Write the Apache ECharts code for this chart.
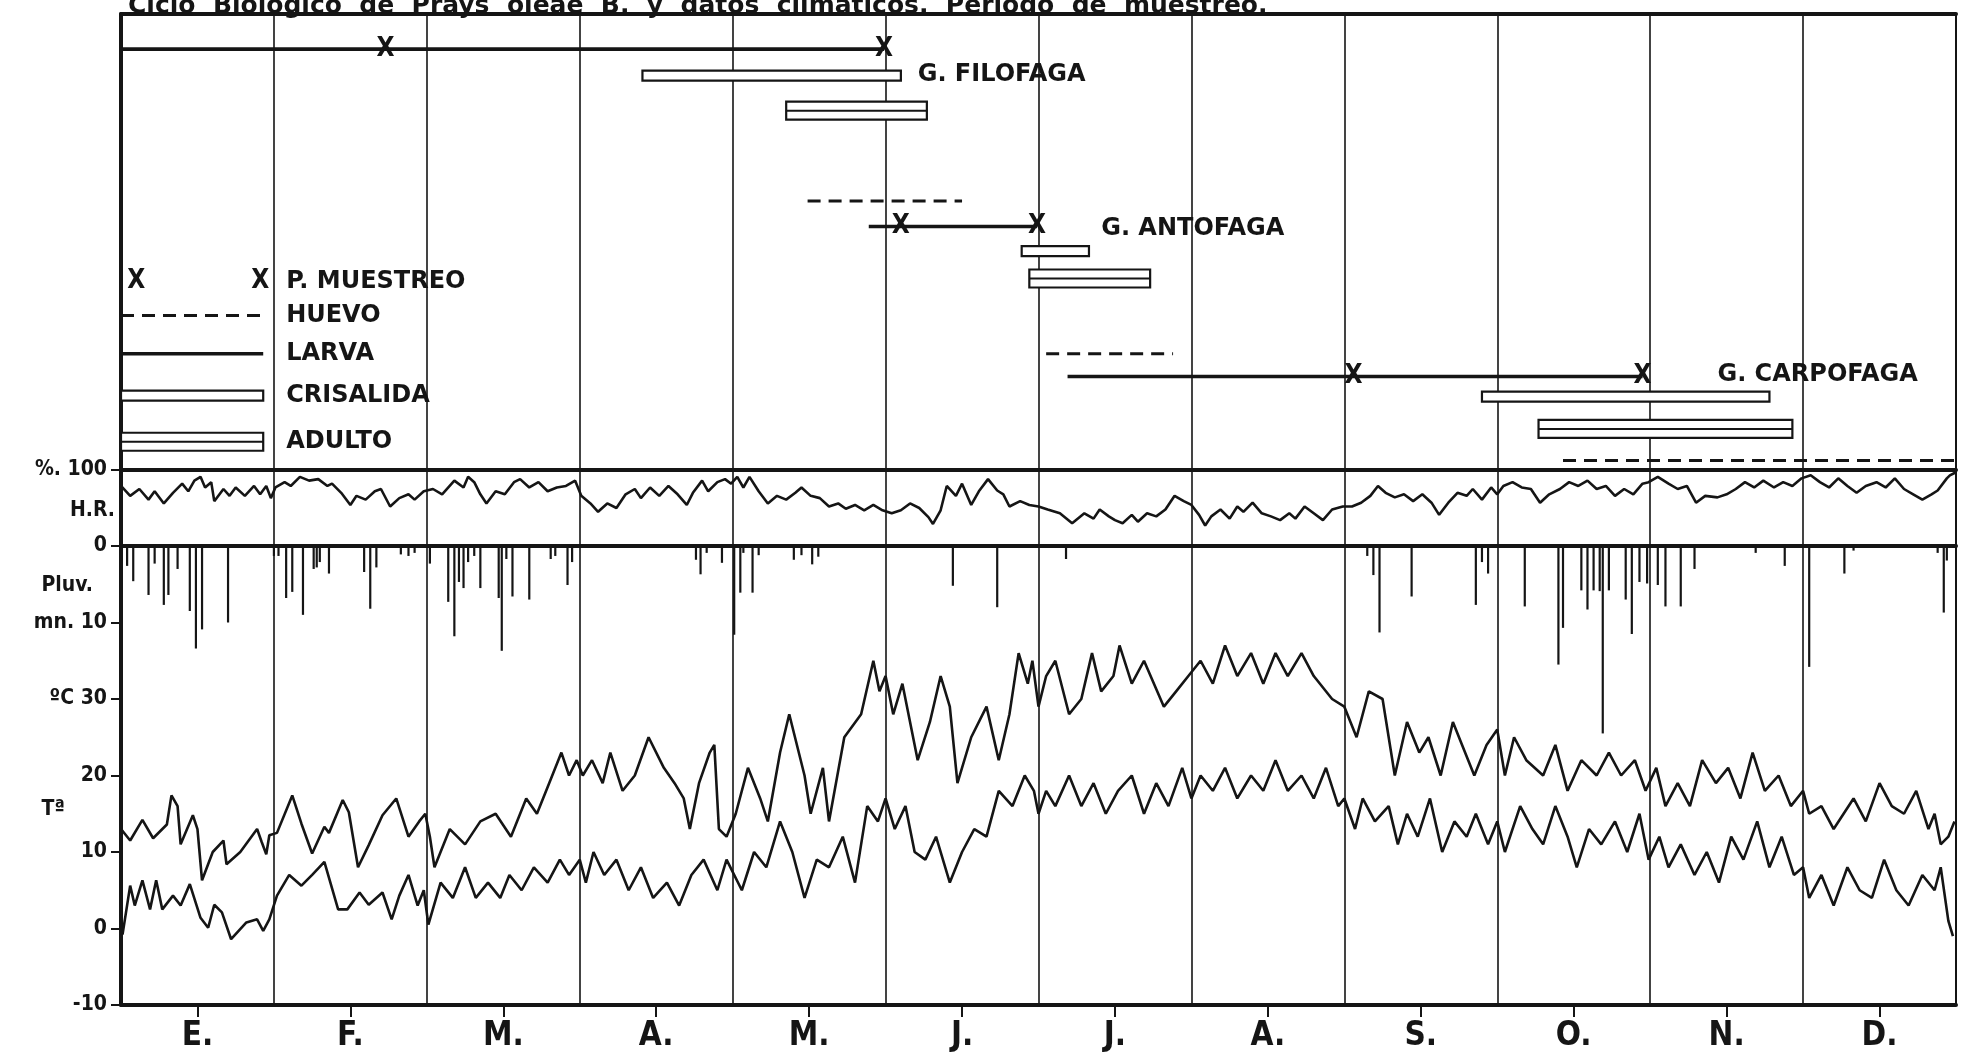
<!DOCTYPE html>
<html><head><meta charset="utf-8">
<script src="https://cdn.jsdelivr.net/npm/echarts@6/dist/echarts.min.js"></script>
<style>html,body{margin:0;padding:0;background:#fff}#c{width:1975px;height:1061px}</style>
</head><body><div id="c"></div>
<script>
// ---------------- DATA ----------------
const TITLE = 'Ciclo  Biologico  de  Prays  oleae  B.  y  datos  climaticos.  Periodo  de  muestreo.';
const months = ['E.','F.','M.','A.','M.','J.','J.','A.','S.','O.','N.','D.'];
const stages = ['HUEVO','LARVA','CRISALIDA','ADULTO'];
const groupNames = ['G. FILOFAGA','G. ANTOFAGA','G. CARPOFAGA'];

// periods in months (0 = start of January, 12 = end of December)
const filofagaPeriods = [['LARVA',0,4.99],['CRISALIDA',3.41,5.10],['ADULTO',4.35,5.27]];
const filofagaSamples = [1.73, 4.99];
const antofagaPeriods = [['HUEVO',4.49,5.50],['LARVA',4.89,5.99],['CRISALIDA',5.89,6.33],['ADULTO',5.94,6.73]];
const antofagaSamples = [5.10, 5.99];
const carpofagaPeriods = [['HUEVO',6.05,6.88],['LARVA',6.19,9.95],['CRISALIDA',8.90,10.78],['ADULTO',9.27,10.93],['HUEVO',9.43,12]];
const carpofagaSamples = [8.06, 9.95];

const legendLabels = ['P. MUESTREO','HUEVO','LARVA','CRISALIDA','ADULTO'];

// relative humidity (%)
const hr = [
[0.00,79],[0.06,66],[0.12,75],[0.18,61],[0.22,72],[0.28,56],[0.34,70],[0.40,82],[0.44,72],[0.48,86],[0.52,91],[0.55,77],[0.59,84],[0.61,59],[0.67,75],[0.71,66],[0.75,77],[0.81,66],[0.87,79],[0.91,68],[0.95,79],[0.98,63],
[1.01,77],[1.07,84],[1.11,79],[1.17,91],[1.23,86],[1.29,88],[1.35,79],[1.38,82],[1.44,70],[1.50,54],[1.54,66],[1.60,61],[1.66,72],[1.70,75],[1.76,52],[1.82,63],[1.88,68],[1.92,61],[1.98,72],
[2.04,75],[2.10,68],[2.18,86],[2.24,77],[2.27,91],[2.31,84],[2.35,68],[2.39,56],[2.45,72],[2.51,68],[2.57,84],[2.61,88],[2.67,77],[2.73,84],[2.79,72],[2.85,77],[2.91,79],[2.97,86],
[3.01,66],[3.07,56],[3.12,45],[3.18,56],[3.24,50],[3.30,68],[3.36,75],[3.40,63],[3.46,77],[3.52,66],[3.58,79],[3.64,68],[3.70,54],[3.74,70],[3.80,86],[3.84,72],[3.90,84],[3.95,88],[3.99,82],
[4.03,91],[4.07,77],[4.11,91],[4.17,72],[4.23,56],[4.29,66],[4.35,61],[4.41,70],[4.45,77],[4.51,66],[4.57,63],[4.63,52],[4.69,56],[4.74,49],[4.80,54],[4.86,47],[4.92,54],[4.98,47],
[5.04,43],[5.10,47],[5.16,56],[5.22,50],[5.28,38],[5.31,29],[5.36,47],[5.40,79],[5.46,66],[5.50,82],[5.56,54],[5.61,72],[5.67,88],
[5.73,73],[5.77,68],[5.81,52],[5.88,59],[5.94,54],[6.00,52],[6.06,48],[6.14,43],[6.22,30],[6.30,43],[6.36,36],[6.40,48],[6.46,39],[6.50,34],[6.55,30],[6.61,41],[6.65,32],[6.71,43],[6.77,39],[6.83,48],[6.89,66],[6.95,59],[7.00,54],
[7.05,41],[7.09,27],[7.13,39],[7.19,48],[7.25,36],[7.30,52],[7.34,45],[7.40,57],[7.46,43],[7.52,39],[7.58,34],[7.64,43],[7.68,36],[7.74,52],[7.80,43],[7.86,34],[7.92,48],[7.99,52],
[8.05,52],[8.11,57],[8.17,66],[8.22,79],[8.27,70],[8.33,64],[8.39,68],[8.45,59],[8.51,68],[8.57,57],[8.62,41],[8.68,57],[8.74,70],[8.80,66],[8.84,75],[8.90,61],[8.96,77],[9.00,68],
[9.04,79],[9.10,84],[9.16,77],[9.22,75],[9.28,57],[9.34,68],[9.41,75],[9.47,84],[9.53,79],[9.59,86],[9.65,75],[9.71,79],[9.77,66],[9.83,75],[9.89,68],[9.95,82],[9.99,84],
[10.05,91],[10.12,82],[10.18,75],[10.24,79],[10.30,57],[10.36,66],[10.44,64],[10.50,68],[10.56,75],[10.62,84],[10.68,77],[10.74,86],[10.81,77],[10.87,84],[10.93,79],[10.99,89],
[11.05,93],[11.11,84],[11.17,77],[11.23,89],[11.29,79],[11.35,70],[11.41,79],[11.48,84],[11.54,77],[11.60,89],[11.66,75],[11.72,68],[11.78,61],[11.84,68],[11.88,73],[11.94,89],[11.96,93],[12.0,97]
];

// rainfall (mm)
const rain = [
[0.04,2.6],[0.08,4.6],[0.18,6.4],[0.22,2.3],[0.28,7.7],[0.31,6.4],[0.37,3.0],[0.45,8.5],[0.49,13.4],[0.53,10.9],[0.70,10.0],
[1.00,1.3],[1.03,1.3],[1.08,6.8],[1.12,6.0],[1.19,9.0],[1.26,3.0],[1.28,2.8],[1.30,2.1],[1.36,3.6],[1.59,3.4],[1.63,8.2],[1.67,2.8],[1.83,1.1],[1.88,1.3],[1.92,0.9],
[2.02,2.3],[2.14,7.3],[2.18,11.8],[2.21,4.7],[2.24,5.5],[2.27,2.1],[2.31,1.3],[2.35,5.5],[2.47,6.8],[2.49,13.7],[2.52,1.7],[2.56,6.6],[2.67,7.0],[2.81,1.7],[2.84,1.3],[2.92,5.1],[2.95,2.1],
[3.76,1.8],[3.79,3.7],[3.83,0.9],[3.93,2.2],[4.01,11.6],[4.05,6.1],[4.07,0.9],[4.13,6.1],[4.17,1.2],[4.40,1.8],[4.45,1.2],[4.52,2.4],[4.56,1.4],
[5.44,5.2],[5.73,8.0],
[6.18,1.7],
[8.15,1.3],[8.19,3.8],[8.23,11.3],[8.44,6.6],[8.86,7.7],[8.90,2.1],[8.94,3.6],
[9.18,7.9],[9.40,15.5],[9.43,10.7],[9.55,5.8],[9.59,8.3],[9.63,5.8],[9.67,5.9],[9.69,24.5],[9.73,5.8],[9.84,7.0],[9.88,11.5],[9.93,4.7],[9.98,4.9],
[10.05,5.1],[10.10,7.9],[10.20,7.9],[10.29,3.0],[10.69,0.9],[10.88,2.6],
[11.04,15.8],[11.27,3.6],[11.33,0.6],[11.88,0.9],[11.92,8.7],[11.94,1.9]
];

// maximum temperature (ºC)
const tmax = [
[0,13],[0.06,11.5],[0.14,14.2],[0.21,11.8],[0.30,13.6],[0.33,17.4],[0.37,16],[0.39,11],[0.47,14.8],[0.50,13],[0.53,6.3],[0.60,10],[0.67,11.5],[0.69,8.4],[0.78,10],[0.89,13],[0.92,11.3],[0.95,9.7],[0.97,12.2],
[1.02,12.5],[1.12,17.4],[1.18,13.7],[1.25,9.8],[1.33,13.3],[1.36,12.5],[1.45,16.8],[1.49,15.2],[1.55,8],[1.62,10.9],[1.71,14.8],[1.80,17],[1.88,12],[1.95,14],[1.99,15],
[2.02,12],[2.05,8],[2.15,13],[2.25,11],[2.35,14],[2.45,15],[2.55,12],[2.65,17],[2.72,15],[2.80,19],[2.88,23],[2.93,20],[2.98,22],
[3.02,20],[3.08,22],[3.15,19],[3.20,23],[3.28,18],[3.36,20],[3.45,25],[3.55,21],[3.62,19],[3.68,17],[3.72,13],[3.78,19],[3.85,23],[3.88,24],[3.91,13],[3.96,12],
[4.02,15],[4.10,21],[4.18,17],[4.23,14],[4.31,23],[4.37,28],[4.47,20],[4.51,15],[4.59,21],[4.63,14],[4.73,25],[4.84,28],[4.92,35],[4.96,31],[5.00,33],
[5.05,28],[5.11,32],[5.21,22],[5.29,27],[5.36,33],[5.42,29],[5.47,19],[5.56,25],[5.66,29],[5.74,22],[5.81,28],[5.87,36],[5.93,32],[5.96,35],[6.00,29],
[6.05,33],[6.11,35],[6.20,28],[6.28,30],[6.35,36],[6.41,31],[6.49,33],[6.53,37],[6.61,32],[6.69,35],[6.82,29],[6.90,31],[6.98,33],
[7.06,35],[7.14,32],[7.22,37],[7.30,33],[7.39,36],[7.47,32],[7.55,36],[7.63,33],[7.72,36],[7.80,33],[7.92,30],[8.00,29],
[8.08,25],[8.16,31],[8.25,30],[8.33,20],[8.41,27],[8.49,23],[8.55,25],[8.63,20],[8.71,27],[8.77,24],[8.85,20],[8.93,24],[9.00,26],
[9.05,20],[9.11,25],[9.19,22],[9.30,20],[9.38,24],[9.46,18],[9.55,22],[9.65,20],[9.73,23],[9.81,20],[9.90,22],[9.97,18],
[10.04,21],[10.10,16],[10.18,19],[10.26,16],[10.34,22],[10.43,19],[10.51,21],[10.59,17],[10.67,23],[10.75,18],[10.84,20],[10.92,16],[11.00,18],
[11.04,15],[11.12,16],[11.20,13],[11.33,17],[11.41,14],[11.50,19],[11.58,16],[11.66,15],[11.74,18],[11.82,13],[11.86,15],[11.90,11],[11.95,12],[11.99,14]
];

// minimum temperature (ºC)
const tmin = [
[0.01,-0.8],[0.06,5.6],[0.09,3],[0.14,6.3],[0.19,2.5],[0.23,6.3],[0.27,2.5],[0.34,4.3],[0.39,3],[0.45,5.8],[0.52,1.4],[0.57,0.1],[0.61,3.1],[0.66,2.1],[0.72,-1.4],[0.82,0.8],[0.89,1.2],[0.93,-0.3],[0.97,1.2],
[1.02,4.3],[1.10,7],[1.18,5.6],[1.25,7],[1.33,8.7],[1.42,2.5],[1.48,2.5],[1.56,4.7],[1.62,3.1],[1.71,4.7],[1.77,1.2],[1.82,4.3],[1.88,7],[1.94,3],[1.98,5],
[2.01,0.5],[2.09,6],[2.17,4],[2.25,8],[2.32,4],[2.40,6],[2.48,4],[2.54,7],[2.62,5],[2.70,8],[2.79,6],[2.87,9],[2.93,7],[3.00,9],
[3.04,6],[3.09,10],[3.16,7],[3.24,9],[3.32,5],[3.40,8],[3.48,4],[3.57,6],[3.65,3],[3.73,7],[3.81,9],[3.90,5],[3.96,9],
[4.06,5],[4.14,10],[4.22,8],[4.31,14],[4.39,10],[4.47,4],[4.55,9],[4.63,8],[4.72,12],[4.80,6],[4.88,16],[4.95,14],[5.00,17],
[5.06,13],[5.13,16],[5.19,10],[5.26,9],[5.33,12],[5.42,6],[5.50,10],[5.58,13],[5.66,12],[5.74,18],[5.83,16],[5.91,20],[5.97,18],[6.00,15],
[6.05,18],[6.11,16],[6.20,20],[6.28,16],[6.36,19],[6.44,15],[6.52,18],[6.61,20],[6.69,15],[6.77,19],[6.85,16],[6.94,21],[7.00,17],
[7.06,20],[7.14,18],[7.22,21],[7.30,17],[7.39,20],[7.47,18],[7.55,22],[7.63,18],[7.72,20],[7.80,17],[7.88,21],[7.96,16],[8.00,17],
[8.07,13],[8.12,17],[8.20,14],[8.29,16],[8.35,11],[8.41,15],[8.48,12],[8.56,17],[8.64,10],[8.72,14],[8.80,12],[8.86,15],[8.94,11],[9.00,14],
[9.05,10],[9.15,16],[9.23,13],[9.30,11],[9.38,16],[9.46,12],[9.52,8],[9.60,13],[9.68,11],[9.77,14],[9.85,10],[9.93,15],[9.99,9],
[10.06,12],[10.12,8],[10.20,11],[10.29,7],[10.37,10],[10.45,6],[10.53,12],[10.61,9],[10.70,14],[10.78,8],[10.86,12],[10.94,7],[11.00,8],
[11.04,4],[11.12,7],[11.20,3],[11.29,8],[11.37,5],[11.45,4],[11.53,9],[11.61,5],[11.69,3],[11.78,7],[11.86,5],[11.90,8],[11.95,1],[11.98,-1]
];

// ---------------- LAYOUT / STYLE ----------------
const INK = '#151515';
const FONT = '"DejaVu Sans Condensed", "DejaVu Sans", sans-serif';
const FONT_W = '"DejaVu Sans", sans-serif';
const G = {left:121, right:19};
const TOPS = {a:14, b:470, c:546, bottom:1005};
// vertical levels (0 = top of upper panel, 100 = its bottom) of each drawn row
const ROWS = {
  filofaga:[7.7, 13.5, 21.2], antofaga:[41.0, 46.6, 52.0, 58.0], carpofaga:[74.5, 79.5, 83.9, 91.0, 97.9],
  labels:[13.4, 47.1, 79.2], labelX:[5.21, 6.41, 10.44],
  legend:[58.7, 66.1, 74.5, 83.7, 93.8], legendLine:[0, 0.93], legendMarks:[0.10, 0.91], legendText:1.08
};

// ---------------- BUILD ----------------
const gens = [
  {p:filofagaPeriods, s:filofagaSamples, rows:ROWS.filofaga},
  {p:antofagaPeriods, s:antofagaSamples, rows:ROWS.antofaga},
  {p:carpofagaPeriods, s:carpofagaSamples, rows:ROWS.carpofaga}
];
const stageData = [], markData = [];
gens.forEach(g => {
  g.p.forEach((p, i) => stageData.push([p[1], p[2], g.rows[i], stages.indexOf(p[0])]));
  const li = g.p.findIndex(p => p[0] === 'LARVA');
  g.s.forEach(m => markData.push([m, g.rows[li]]));
});
stages.forEach((st, i) => stageData.push([ROWS.legendLine[0], ROWS.legendLine[1], ROWS.legend[i + 1], i]));
ROWS.legendMarks.forEach(m => markData.push([m, ROWS.legend[0]]));
const textData = [];
groupNames.forEach((n, i) => textData.push({value:[ROWS.labelX[i], ROWS.labels[i]], name:n}));
legendLabels.forEach((n, i) => textData.push({value:[ROWS.legendText, ROWS.legend[i]], name:n}));

function renderStage(params, api) {
  const s = api.value(0), e = api.value(1), lvl = api.value(2), kind = api.value(3);
  const a = api.coord([s, lvl]), b = api.coord([e, lvl]);
  const x = a[0], w = b[0] - a[0], y = a[1];
  if (kind === 0) return {type:'line', shape:{x1:x, y1:y, x2:b[0], y2:y}, style:{stroke:INK, lineWidth:3, lineDash:[13, 8]}};
  if (kind === 1) return {type:'line', shape:{x1:x, y1:y, x2:b[0], y2:y}, style:{stroke:INK, lineWidth:3.6}};
  if (kind === 2) return {type:'rect', shape:{x:x, y:y - 5, width:w, height:10}, style:{fill:'#fff', stroke:INK, lineWidth:2.2}};
  return {type:'group', children:[
    {type:'rect', shape:{x:x, y:y - 9, width:w, height:18}, style:{fill:'#fff', stroke:INK, lineWidth:2.2}},
    {type:'line', shape:{x1:x, y1:y, x2:b[0], y2:y}, style:{stroke:INK, lineWidth:2}}
  ]};
}
function renderMark(params, api) {
  const p = api.coord([api.value(0), api.value(1)]);
  return {type:'text', x:p[0], y:p[1], style:{text:'X', fill:INK, font:'bold 26px ' + FONT, align:'center', verticalAlign:'middle'}};
}
function renderText(params, api) {
  const p = api.coord([api.value(0), api.value(1)]);
  return {type:'text', x:p[0], y:p[1], style:{text:textData[params.dataIndex].name, fill:INK, font:'bold 24px ' + FONT_W, align:'left', verticalAlign:'middle'}};
}
function renderRain(params, api) {
  const a = api.coord([api.value(0), 0]), b = api.coord([api.value(0), api.value(1)]);
  return {type:'line', shape:{x1:a[0], y1:a[1], x2:b[0], y2:b[1]}, style:{stroke:INK, lineWidth:2.2}};
}

const thick = {show:true, onZero:false, lineStyle:{color:INK, width:4}};
const split = {show:true, lineStyle:{color:INK, width:1.6}};
const lab = (size) => ({color:INK, fontFamily:FONT, fontWeight:'bold', fontSize:size});
function monthAxis(grid) {
  return {type:'value', gridIndex:grid, min:0, max:12, interval:1, position:'top',
    axisLine:thick, axisTick:{show:false}, axisLabel:{show:false}, splitLine:split};
}
const rich = (pad) => ({fontFamily:FONT, fontWeight:'bold', fontSize:21, color:INK, padding:[0, pad, 0, 0]});
const gridBase = {left:G.left, right:G.right, show:true, borderColor:INK, borderWidth:2, containLabel:false, outerBoundsMode:'none'};

const option = {
  backgroundColor:'#fff',
  animation:false,
  graphic:[{type:'text', left:128, top:-6, style:{text:TITLE, font:'bold 25px ' + FONT_W, fill:INK}}],
  grid:[
    Object.assign({top:TOPS.a, height:TOPS.b - TOPS.a}, gridBase),
    Object.assign({top:TOPS.b, height:TOPS.c - TOPS.b}, gridBase),
    Object.assign({top:TOPS.c, height:TOPS.bottom - TOPS.c}, gridBase)
  ],
  xAxis:[
    monthAxis(0), monthAxis(1), monthAxis(2),
    {type:'category', gridIndex:2, position:'bottom', data:months, boundaryGap:true,
      axisLine:thick, axisTick:{show:true, alignWithLabel:true, length:12, lineStyle:{color:INK, width:2}},
      axisLabel:Object.assign(lab(33), {margin:15}), splitLine:{show:false}}
  ],
  yAxis:[
    {type:'value', gridIndex:0, position:'left', min:0, max:100, inverse:true, axisLine:thick, axisTick:{show:false}, axisLabel:{show:false}, splitLine:{show:false}},
    {type:'value', gridIndex:1, position:'left', min:0, max:100, axisLine:thick, splitLine:{show:false},
      axisTick:{show:true, length:10, lineStyle:{color:INK, width:2}, customValues:[100]},
      axisLabel:Object.assign(lab(22), {margin:6, customValues:[46, 100],
        formatter:v => v === 100 ? '{a|%. 100}' : '{h|H.R.}', rich:{a:rich(8), h:rich(0)}})},
    {type:'value', gridIndex:2, position:'left', min:-10, max:50, axisLine:thick, splitLine:{show:false},
      axisTick:{show:true, length:10, lineStyle:{color:INK, width:2}, customValues:[-10, 0, 10, 20, 30]},
      axisLabel:Object.assign(lab(22), {margin:6, customValues:[-10, 0, 10, 15.5, 20, 30],
        formatter:v => v === 30 ? '{a|ºC 30}' : (v === 15.5 ? '{t|Tª}' : '{a|' + v + '}'), rich:{a:rich(8), t:rich(50)}})},
    {type:'value', gridIndex:2, position:'left', offset:0, min:0, max:60, inverse:true, axisLine:{show:false, onZero:false}, splitLine:{show:false},
      axisTick:{show:true, length:10, lineStyle:{color:INK, width:2}, customValues:[0, 10]},
      axisLabel:Object.assign(lab(22), {margin:6, customValues:[0, 5.2, 10],
        formatter:v => v === 0 ? '{a|0}' : (v === 10 ? '{a|mn. 10}' : '{p|Pluv.}'), rich:{a:rich(8), p:rich(22)}})}
  ],
  series:[
    {type:'custom', name:'ciclo', xAxisIndex:0, yAxisIndex:0, data:stageData, renderItem:renderStage, encode:{x:[0, 1], y:2}, z:3},
    {type:'custom', name:'muestreo', xAxisIndex:0, yAxisIndex:0, data:markData, renderItem:renderMark, z:4},
    {type:'custom', name:'textos', xAxisIndex:0, yAxisIndex:0, data:textData, renderItem:renderText, z:5},
    {type:'line', name:'H.R.', xAxisIndex:1, yAxisIndex:1, data:hr, showSymbol:false, lineStyle:{color:INK, width:2.6}, z:3},
    {type:'custom', name:'Pluv.', xAxisIndex:2, yAxisIndex:3, data:rain, renderItem:renderRain, z:3},
    {type:'line', name:'Tmax', xAxisIndex:2, yAxisIndex:2, data:tmax, showSymbol:false, lineStyle:{color:INK, width:2.6}, z:3},
    {type:'line', name:'Tmin', xAxisIndex:2, yAxisIndex:2, data:tmin, showSymbol:false, lineStyle:{color:INK, width:2.6}, z:3}
  ]
};
const chart = echarts.init(document.getElementById('c'));
chart.setOption(option);
</script></body></html>
